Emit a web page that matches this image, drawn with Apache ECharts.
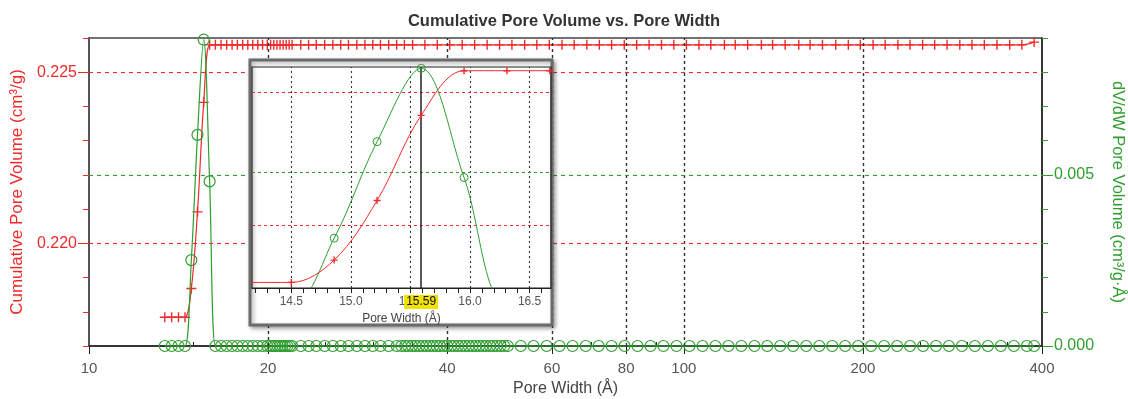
<!DOCTYPE html>
<html>
<head>
<meta charset="utf-8">
<script src="https://cdn.jsdelivr.net/npm/echarts@6/dist/echarts.min.js"></script>
<style>
  html, body { margin: 0; padding: 0; background: #fff; }
  #chart { width: 1128px; height: 399px; }
</style>
</head>
<body>
<div id="chart"></div>
<script>
// Cumulative pore volume (cm³/g) against pore width (Å)
const cumWidth = [
  13.41, 13.77, 14.14, 14.50, 14.86, 15.22, 15.59, 15.95, 16.31, 16.67,
  17.04, 17.40, 17.76, 18.13, 18.49, 18.85, 19.22, 19.58, 19.94, 20.20,
  20.45, 20.70, 20.95, 21.20, 21.45, 21.70, 21.95, 22.7, 23.4, 24.1,
  24.9, 25.7, 26.5, 27.3, 28.2, 29.1, 30.0, 30.9, 31.9, 32.9,
  33.9, 35.0, 36.7, 38.5, 40.4, 42.4, 44.5, 46.7, 49.0, 51.4,
  54.0, 56.6, 59.4, 62.4, 65.4, 68.7, 72.1, 75.6, 79.4, 83.3,
  87.4, 91.7, 96.2, 101, 106, 111, 117, 122, 128, 135,
  141, 148, 156, 163, 171, 180, 189, 198, 208, 218,
  229, 240, 252, 264, 277, 291, 305, 320, 336, 353,
  370, 388
];
const cumVolume = [
  0.21784, 0.21784, 0.21784, 0.21784, 0.21868, 0.22092, 0.22412, 0.22580, 0.22580, 0.22580,
  0.22580, 0.22580, 0.22580, 0.22580, 0.22580, 0.22580, 0.22580, 0.22580, 0.22580, 0.22580,
  0.22580, 0.22580, 0.22580, 0.22580, 0.22580, 0.22580, 0.22580, 0.22580, 0.22580, 0.22580,
  0.22580, 0.22580, 0.22580, 0.22580, 0.22580, 0.22580, 0.22580, 0.22580, 0.22580, 0.22580,
  0.22580, 0.22580, 0.22580, 0.22580, 0.22580, 0.22580, 0.22580, 0.22580, 0.22580, 0.22580,
  0.22580, 0.22580, 0.22580, 0.22580, 0.22580, 0.22580, 0.22580, 0.22580, 0.22580, 0.22580,
  0.22580, 0.22580, 0.22580, 0.22580, 0.22580, 0.22580, 0.22580, 0.22580, 0.22580, 0.22580,
  0.22580, 0.22580, 0.22580, 0.22580, 0.22580, 0.22580, 0.22580, 0.22580, 0.22580, 0.22580,
  0.22580, 0.22580, 0.22580, 0.22580, 0.22580, 0.22580, 0.22580, 0.22580, 0.22580, 0.22580,
  0.22580, 0.22588
];

// dV/dW pore volume (cm³/g·Å) against pore width (Å)
const dvWidth = [
  13.41, 13.77, 14.14, 14.50, 14.86, 15.22, 15.59, 15.95, 16.31, 16.67,
  17.04, 17.40, 17.76, 18.13, 18.49, 18.85, 19.22, 19.58, 19.94, 20.15,
  20.35, 20.55, 20.75, 20.95, 21.15, 21.35, 21.55, 21.75, 21.95, 22.7,
  23.4, 24.1, 24.9, 25.7, 26.5, 27.3, 28.2, 29.1, 30.0, 30.9,
  31.9, 32.9, 33.5, 34.0, 34.4, 34.9, 35.4, 35.9, 36.4, 36.9,
  37.4, 37.9, 38.4, 38.9, 39.5, 40.0, 40.6, 41.1, 41.7, 42.3,
  42.9, 43.5, 44.1, 44.7, 45.3, 45.9, 46.5, 47.2, 47.8, 48.5,
  49.2, 49.9, 50.6, 53.2, 55.9, 58.8, 61.8, 65.0, 68.4, 71.9,
  75.6, 79.5, 83.6, 87.9, 92.4, 97.2, 102.2, 107.5, 113.0, 118.8,
  124.9, 131.4, 138.1, 145.2, 152.7, 160.6, 168.9, 177.6, 186.7, 196.3,
  206.4, 217.1, 228.3, 240.0, 252.4, 265.4, 279.0, 293.4, 308.5, 324.4,
  341.1, 358.7, 377.2, 388
];
const dvdw = [
  0, 0, 0, 0, 0.00251, 0.00617, 0.00895, 0.00481, 0, 0,
  0, 0, 0, 0, 0, 0, 0, 0, 0, 0,
  0, 0, 0, 0, 0, 0, 0, 0, 0, 0,
  0, 0, 0, 0, 0, 0, 0, 0, 0, 0,
  0, 0, 0, 0, 0, 0, 0, 0, 0, 0,
  0, 0, 0, 0, 0, 0, 0, 0, 0, 0,
  0, 0, 0, 0, 0, 0, 0, 0, 0, 0,
  0, 0, 0, 0, 0, 0, 0, 0, 0, 0,
  0, 0, 0, 0, 0, 0, 0, 0, 0, 0,
  0, 0, 0, 0, 0, 0, 0, 0, 0, 0,
  0, 0, 0, 0, 0, 0, 0, 0, 0, 0,
  0, 0, 0, 0
];

// Axis ticks, labels and reference lines
const xTickLabels = [10, 20, 40, 60, 80, 100, 200, 400];
const xMinorTicks = [15, 25, 30, 35, 50, 70, 90, 150, 250, 300, 350];
const xGridLines = [20, 40, 60, 80, 100, 200];
const leftLabels = [0.220, 0.225];
const rightLabels = [0.000, 0.005];
const insetLabels = [14.5, 15.0, 15.5, 16.0, 16.5];
const insetMinorTicks = [14.2, 14.3, 14.4, 14.5, 14.6, 14.7, 14.8, 14.9, 15.0, 15.1, 15.2, 15.3,
  15.4, 15.5, 15.6, 15.7, 15.8, 15.9, 16.0, 16.1, 16.2, 16.3, 16.4, 16.5, 16.6];
const insetGridX = [14.5, 15.0, 15.5, 16.0, 16.5];
const markedWidth = 15.59;

const RED = '#f02a2a';
const GREEN = '#2f9e2f';
const PLUS = 'path://M4.3,0H5.7V4.3H10V5.7H5.7V10H4.3V5.7H0V4.3H4.3Z';
const PLUS_SMALL = 'path://M4,0H6V4H10V6H6V10H4V6H0V4H4Z';

const main = { left: 89, top: 38, width: 953, height: 308 };
const inset = { left: 252, top: 67, width: 299, height: 221 };

const pairs = (xs, ys) => xs.map((x, i) => [x, ys[i]]);
const cumData = pairs(cumWidth, cumVolume);
const dvData = pairs(dvWidth, dvdw);

// shared settings for reference lines (no value rounding)
const refLines = { silent: true, precision: 6, symbol: ['none', 'none'], label: { show: false } };

const chart = echarts.init(document.getElementById('chart'), null, { renderer: 'canvas' });

chart.setOption({
  animation: false,
  backgroundColor: '#fff',
  textStyle: { fontFamily: 'Liberation Sans, Arial, sans-serif' },
  title: {
    text: 'Cumulative Pore Volume vs. Pore Width',
    left: 'center', top: 8,
    textStyle: { fontSize: 16.5, fontWeight: 'bold', color: '#333' }
  },
  grid: [
    { left: main.left, top: main.top, width: main.width, height: main.height,
      outerBoundsMode: 'none', containLabel: false,
      show: true, borderColor: '#444', borderWidth: 1.5, backgroundColor: 'transparent' },
    { left: inset.left, top: inset.top, width: inset.width, height: inset.height,
      outerBoundsMode: 'none', containLabel: false,
      show: true, borderColor: '#222', borderWidth: 1.2, backgroundColor: 'transparent', z: 10 }
  ],
  graphic: [{
    type: 'rect', z: 6,
    shape: { x: inset.left - 2, y: inset.top - 7, width: inset.width + 3, height: inset.height + 44 },
    style: { fill: '#fff', stroke: '#6b6b6b', lineWidth: 3,
      shadowBlur: 4, shadowOffsetX: 2, shadowOffsetY: 2, shadowColor: 'rgba(0,0,0,0.35)' }
  }],
  xAxis: [
    { type: 'log', logBase: 10, gridIndex: 0, min: 10, max: 400,
      name: 'Pore Width (Å)', nameLocation: 'middle', nameGap: 33,
      nameTextStyle: { fontSize: 16, color: '#444' },
      axisLine: { show: true, lineStyle: { color: '#222', width: 1.5 } },
      axisTick: { show: true, customValues: xTickLabels, length: 8, lineStyle: { color: '#222' } },
      axisLabel: { show: true, customValues: xTickLabels, fontSize: 15, color: '#555', margin: 15,
        formatter: v => String(Math.round(v)) },
      splitLine: { show: false }, minorTick: { show: false } },
    { type: 'log', logBase: 10, gridIndex: 0, min: 10, max: 400,
      axisLine: { show: false },
      axisTick: { show: true, customValues: xMinorTicks, length: 4, lineStyle: { color: '#222' } },
      axisLabel: { show: false }, splitLine: { show: false } },
    { type: 'value', gridIndex: 1, min: 14.17, max: 16.68, z: 10,
      name: 'Pore Width (Å)', nameLocation: 'middle', nameGap: 22,
      nameTextStyle: { fontSize: 12, color: '#444' },
      axisLine: { show: true, lineStyle: { color: '#222', width: 1.2 } },
      axisTick: { show: true, customValues: insetMinorTicks, length: 5, lineStyle: { color: '#222' } },
      axisLabel: { show: true, customValues: insetLabels, fontSize: 12, color: '#555', margin: 8,
        formatter: v => v.toFixed(1) },
      splitLine: { show: false } }
  ],
  yAxis: [
    { type: 'value', gridIndex: 0, position: 'left', min: 0.217, max: 0.226, interval: 0.001,
      name: 'Cumulative Pore Volume (cm³/g)', nameLocation: 'middle', nameGap: 63,
      nameTextStyle: { fontSize: 17, color: RED },
      axisLine: { show: true, lineStyle: { color: '#555', width: 2 } },
      axisTick: { show: true, length: 6, lineStyle: { color: RED } },
      axisLabel: { show: false }, splitLine: { show: false } },
    { type: 'value', gridIndex: 0, position: 'right', min: 0, max: 0.009, interval: 0.001,
      name: 'dV/dW Pore Volume (cm³/g·Å)', nameLocation: 'middle', nameGap: 67, nameRotate: -90,
      nameTextStyle: { fontSize: 16.5, color: GREEN },
      axisLine: { show: true, lineStyle: { color: '#222', width: 1.5 } },
      axisTick: { show: true, length: 6, lineStyle: { color: GREEN } },
      axisLabel: { show: false }, splitLine: { show: false } },
    { type: 'value', gridIndex: 0, position: 'left', min: 0.217, max: 0.226,
      axisLine: { show: false },
      axisTick: { show: true, customValues: leftLabels, length: 11, lineStyle: { color: RED } },
      axisLabel: { show: true, customValues: leftLabels, fontSize: 16, color: RED, margin: 12,
        formatter: v => v.toFixed(3) },
      splitLine: { show: false } },
    { type: 'value', gridIndex: 0, position: 'right', min: 0, max: 0.009,
      axisLine: { show: false },
      axisTick: { show: true, customValues: rightLabels, length: 11, lineStyle: { color: GREEN } },
      axisLabel: { show: true, customValues: rightLabels, fontSize: 16, color: GREEN, margin: 12,
        formatter: v => v.toFixed(3) },
      splitLine: { show: false } },
    { type: 'value', gridIndex: 1, min: 0.21763, max: 0.22594, show: false },
    { type: 'value', gridIndex: 1, min: 0.00062, max: 0.009, show: false }
  ],
  series: [
    { name: 'Cumulative Pore Volume', type: 'line', xAxisIndex: 0, yAxisIndex: 0,
      data: cumData, smooth: 0.35, clip: false, z: 2,
      symbol: PLUS, symbolSize: 10,
      itemStyle: { color: RED }, lineStyle: { color: RED, width: 1.2 },
      markLine: Object.assign({}, refLines, { z: 5,
        data: [
          ...xGridLines.map(v => ({ xAxis: v, lineStyle: { color: '#333', type: [3, 3], width: 1.4 } })),
          ...leftLabels.map(v => ({ yAxis: v, lineStyle: { color: RED, type: [4, 4], width: 1.1 } }))
        ] }) },
    { name: 'dV/dW Pore Volume', type: 'line', xAxisIndex: 0, yAxisIndex: 1,
      data: dvData, smooth: 0.35, clip: false, z: 3,
      symbol: 'circle', symbolSize: 11,
      itemStyle: { color: 'rgba(0,0,0,0)', borderColor: GREEN, borderWidth: 1.2 },
      lineStyle: { color: GREEN, width: 1.2 },
      markLine: Object.assign({}, refLines, { z: 5,
        data: [ { yAxis: rightLabels[1], lineStyle: { color: GREEN, type: [4, 4], width: 1.1 } } ] }) },
    { name: 'Cumulative Pore Volume (detail)', type: 'line', xAxisIndex: 2, yAxisIndex: 4,
      data: cumData, smooth: 0.35, clip: true, z: 12,
      symbol: PLUS_SMALL, symbolSize: 7,
      itemStyle: { color: RED }, lineStyle: { color: RED, width: 1 },
      markLine: Object.assign({}, refLines, { z: 11,
        data: [
          ...insetGridX.map(v => ({ xAxis: v, lineStyle: { color: '#333', type: [2, 3], width: 1.1 } })),
          ...leftLabels.map(v => ({ yAxis: v, lineStyle: { color: RED, type: [3, 3], width: 1 } }))
        ] }) },
    { name: 'dV/dW Pore Volume (detail)', type: 'line', xAxisIndex: 2, yAxisIndex: 5,
      data: dvData, smooth: 0.35, clip: true, z: 12,
      symbol: 'circle', symbolSize: 8,
      itemStyle: { color: 'rgba(0,0,0,0)', borderColor: GREEN, borderWidth: 1 },
      lineStyle: { color: GREEN, width: 1 },
      markLine: Object.assign({}, refLines, { z: 11,
        data: [
          { yAxis: rightLabels[1], lineStyle: { color: GREEN, type: [3, 3], width: 1 } },
          { xAxis: markedWidth, lineStyle: { color: '#222', type: 'solid', width: 1.5 },
            label: { show: true, position: 'start', distance: 7, formatter: markedWidth.toFixed(2),
              backgroundColor: '#f2e200', color: '#111', fontSize: 12, padding: [1, 2] } }
        ] }) }
  ]
});
</script>
</body>
</html>
